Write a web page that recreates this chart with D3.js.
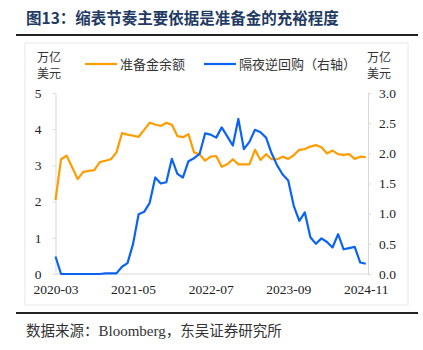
<!DOCTYPE html>
<html lang="zh">
<head>
  <meta charset="UTF-8">
  <title>图13</title>
  <script src="https://d3js.org/d3.v7.min.js"></script>
  <style>
    body { margin: 0; background: #fff; }
    svg { display: block; }
    .cn { font-family: "Noto Sans CJK SC", sans-serif; }
    .axis path, .axis line { stroke: #d9d9d9; }
    .line { fill: none; stroke-width: 2.2px; stroke-linejoin: round; }
  </style>
</head>
<body>
  <svg id="chart" width="423" height="350"></svg>
  <script>
    // monthly, 2020-03 .. 2024-11
    const tickLabels = ["2020-03", "2021-05", "2022-07", "2023-09", "2024-11"];
    const tickIndex = [0, 14, 28, 42, 56];

    // 准备金余额, 万亿美元 (left axis)
    const reserves = [
      2.04, 3.17, 3.27, 2.95, 2.62, 2.82, 2.85, 2.87, 3.09, 3.13,
      3.17, 3.36, 3.89, 3.85, 3.82, 3.79, 3.98, 4.18, 4.13, 4.09,
      4.18, 4.12, 3.81, 3.78, 3.86, 3.36, 3.31, 3.13, 3.24, 3.26,
      2.96, 3.03, 3.17, 3.03, 3.03, 3.03, 3.43, 3.15, 3.31, 3.17,
      3.17, 3.24, 3.18, 3.28, 3.43, 3.45, 3.52, 3.56, 3.50, 3.33,
      3.41, 3.31, 3.29, 3.31, 3.18, 3.24, 3.23
    ];
    // 隔夜逆回购, 万亿美元 (right axis)
    const onrrp = [
      0.29, 0.00, 0.00, 0.00, 0.00, 0.00, 0.00, 0.00, 0.00, 0.01,
      0.01, 0.01, 0.12, 0.18, 0.50, 0.99, 1.03, 1.18, 1.60, 1.50,
      1.52, 1.91, 1.66, 1.60, 1.87, 1.92, 1.99, 2.33, 2.31, 2.26,
      2.43, 2.28, 2.13, 2.57, 2.07, 2.19, 2.39, 2.35, 2.26, 2.00,
      1.80, 1.65, 1.55, 1.13, 0.88, 1.02, 0.61, 0.50, 0.59, 0.53,
      0.44, 0.66, 0.41, 0.43, 0.45, 0.19, 0.17
    ];
    const leftTicks = [0, 1, 2, 3, 4, 5];
    const rightTicks = [0, 0.5, 1, 1.5, 2, 2.5, 3];

    const orange = "#ff9c00";
    const blue = "#0b63f6";
    const serif = "'Liberation Serif', 'Times New Roman', serif";

    const svg = d3.select("#chart");

    // title + rules
    svg.append("text").attr("class", "cn")
      .attr("x", 26).attr("y", 24)
      .attr("font-size", 15.5).attr("font-weight", "bold").attr("fill", "#1f3a63")
      .text("图13：缩表节奏主要依据是准备金的充裕程度");
    svg.append("line").attr("x1", 16).attr("x2", 418).attr("y1", 35).attr("y2", 35)
      .attr("stroke", "#222").attr("stroke-width", 2);
    svg.append("rect").attr("x", 25).attr("y", 43).attr("width", 383).attr("height", 262)
      .attr("fill", "none").attr("stroke", "#e6e6e6");
    svg.append("line").attr("x1", 16).attr("x2", 418).attr("y1", 313).attr("y2", 313)
      .attr("stroke", "#222").attr("stroke-width", 2);
    const src = svg.append("text").attr("class", "cn")
      .attr("x", 26).attr("y", 336).attr("font-size", 14.5).attr("fill", "#333");
    src.append("tspan").text("数据来源：");
    src.append("tspan").style("font-family", serif).attr("font-size", 15).text("Bloomberg");
    src.append("tspan").text("，东吴证券研究所");

    const x = d3.scaleLinear().domain([0, 56.4]).range([55.5, 368]);
    const yL = d3.scaleLinear().domain([0, 5]).range([274, 93]);
    const yR = d3.scaleLinear().domain([0, 3]).range([274, 93]);

    const gx = svg.append("g").attr("class", "axis")
      .attr("transform", "translate(0,274)")
      .call(d3.axisBottom(x).tickValues(tickIndex).tickSize(0).tickPadding(10)
        .tickFormat((d, i) => tickLabels[i]));
    gx.select(".domain").attr("d", `M${x.range()[0]},0H${x.range()[1]}`);

    svg.append("g").attr("class", "axis")
      .attr("transform", "translate(55.5,0)")
      .call(d3.axisLeft(yL).tickValues(leftTicks).tickSize(3).tickSizeOuter(0).tickPadding(11)
        .tickFormat(d3.format("d")));

    svg.append("g").attr("class", "axis")
      .attr("transform", "translate(368,0)")
      .call(d3.axisRight(yR).tickValues(rightTicks).tickSize(3).tickSizeOuter(0).tickPadding(8)
        .tickFormat(d3.format(".1f")));

    svg.selectAll(".axis text").attr("fill", "#222")
      .style("font-family", serif).style("font-size", "13.5px");

    const lineL = d3.line().x((d, i) => x(i)).y(d => yL(d));
    const lineR = d3.line().x((d, i) => x(i)).y(d => yR(d));

    svg.append("path").datum(reserves).attr("class", "line")
      .attr("stroke", orange).attr("d", lineL);
    svg.append("path").datum(onrrp).attr("class", "line")
      .attr("stroke", blue).attr("d", lineR);

    // unit labels
    [49, 379].forEach(ux => {
      svg.append("text").attr("class", "cn").attr("x", ux).attr("y", 62)
        .attr("text-anchor", "middle").attr("font-size", 12).attr("fill", "#333").text("万亿");
      svg.append("text").attr("class", "cn").attr("x", ux).attr("y", 78)
        .attr("text-anchor", "middle").attr("font-size", 12).attr("fill", "#333").text("美元");
    });

    // legend
    const legend = [
      {name: "准备金余额", color: orange, x: 85},
      {name: "隔夜逆回购（右轴）", color: blue, x: 204}
    ];
    legend.forEach(l => {
      svg.append("line").attr("x1", l.x).attr("x2", l.x + 32).attr("y1", 64).attr("y2", 64)
        .attr("stroke", l.color).attr("stroke-width", 2.2);
      svg.append("text").attr("class", "cn").attr("x", l.x + 35).attr("y", 68.5)
        .attr("font-size", 13).attr("fill", "#333").text(l.name);
    });
  </script>
</body>
</html>
